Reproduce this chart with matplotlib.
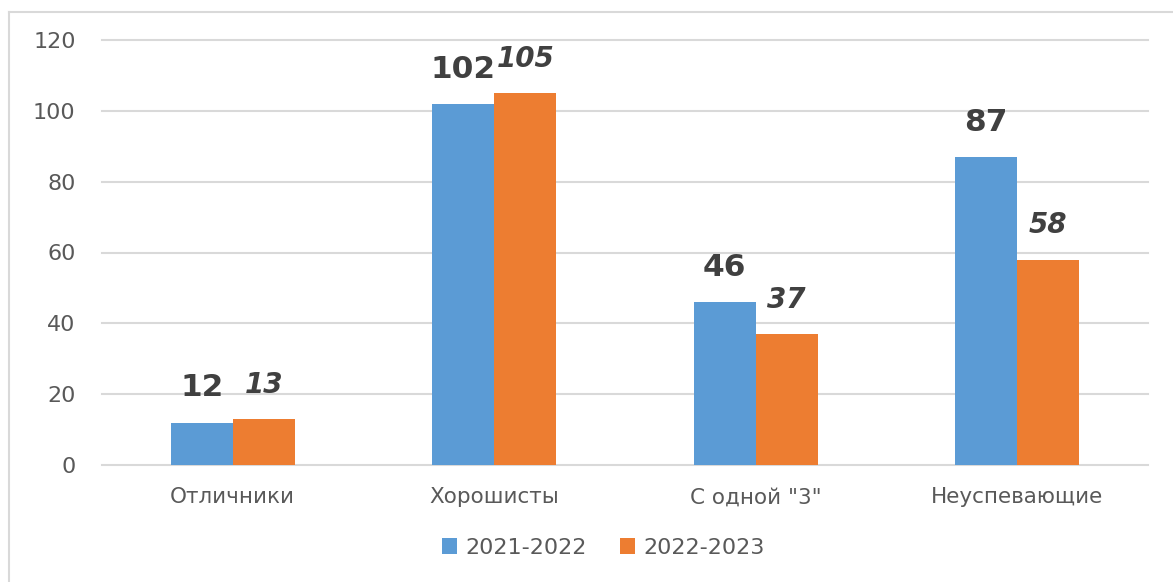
import matplotlib
matplotlib.use("Agg")
import matplotlib.pyplot as plt
from matplotlib.lines import Line2D
import numpy as np

categories = ["Отличники", "Хорошисты", "С одной \"3\"", "Неуспевающие"]
series_names = ["2021-2022", "2022-2023"]
values_2021 = [12, 102, 46, 87]
values_2022 = [13, 105, 37, 58]
yticks = [0, 20, 40, 60, 80, 100, 120]

W, H = 1173, 582
fig = plt.figure(figsize=(W / 100, H / 100), dpi=100)
plt.rcParams['font.family'] = ['DejaVu Sans']
ax = fig.add_axes([102 / W, (H - 465) / H, (1148 - 102) / W, (465 - 40) / H])

blue = "#5B9BD5"
orange = "#ED7D31"
w = 0.237
x = np.arange(len(categories))
b1 = ax.bar(x - w / 2, values_2021, width=w, color=blue, label=series_names[0], zorder=3)
b2 = ax.bar(x + w / 2, values_2022, width=w, color=orange, label=series_names[1], zorder=3)

for rect, v in zip(b1, values_2021):
    ax.annotate(str(v), (rect.get_x() + rect.get_width() / 2, rect.get_height()),
                xytext=(0, 14.5), textcoords="offset points", ha="center", va="bottom",
                fontsize=22.5, fontweight="bold", color="#404040")
for rect, v in zip(b2, values_2022):
    ax.annotate(str(v), (rect.get_x() + rect.get_width() / 2, rect.get_height()),
                xytext=(0, 14.5), textcoords="offset points", ha="center", va="bottom",
                fontsize=20, fontweight="bold", fontstyle="italic", color="#404040")

ax.set_xlim(-0.5, len(categories) - 0.5)
ax.set_ylim(0, 120)
ax.set_yticks(yticks)
ax.set_yticklabels([str(t) for t in yticks])
ax.set_xticks(x)
ax.set_xticklabels(categories)
ax.tick_params(axis="y", length=0, pad=19, labelsize=16, labelcolor="#595959")
ax.tick_params(axis="x", length=0, pad=16, labelsize=15.5, labelcolor="#595959")
for s in ax.spines.values():
    s.set_visible(False)
ax.yaxis.grid(True, color="#D9D9D9", linewidth=1.5, zorder=0)
for gl in ax.get_ygridlines():
    gl.set_clip_on(False)
ax.set_axisbelow(True)

leg = fig.legend(handles=[b1, b2], labels=series_names, loc="center",
                 bbox_to_anchor=(603 / W, 1 - 548 / H), ncol=2, frameon=False,
                 fontsize=16, handlelength=0.7, handleheight=0.7,
                 handletextpad=0.35, columnspacing=1.5)
for t in leg.get_texts():
    t.set_color("#595959")

# outer chart border (top and left visible)
fig.add_artist(Line2D([9 / W, 1], [1 - 12 / H, 1 - 12 / H], transform=fig.transFigure,
                      color="#D9D9D9", linewidth=1.5))
fig.add_artist(Line2D([9 / W, 9 / W], [0, 1 - 12 / H], transform=fig.transFigure,
                      color="#D9D9D9", linewidth=1.5))

fig.savefig("out.png", dpi=100)
